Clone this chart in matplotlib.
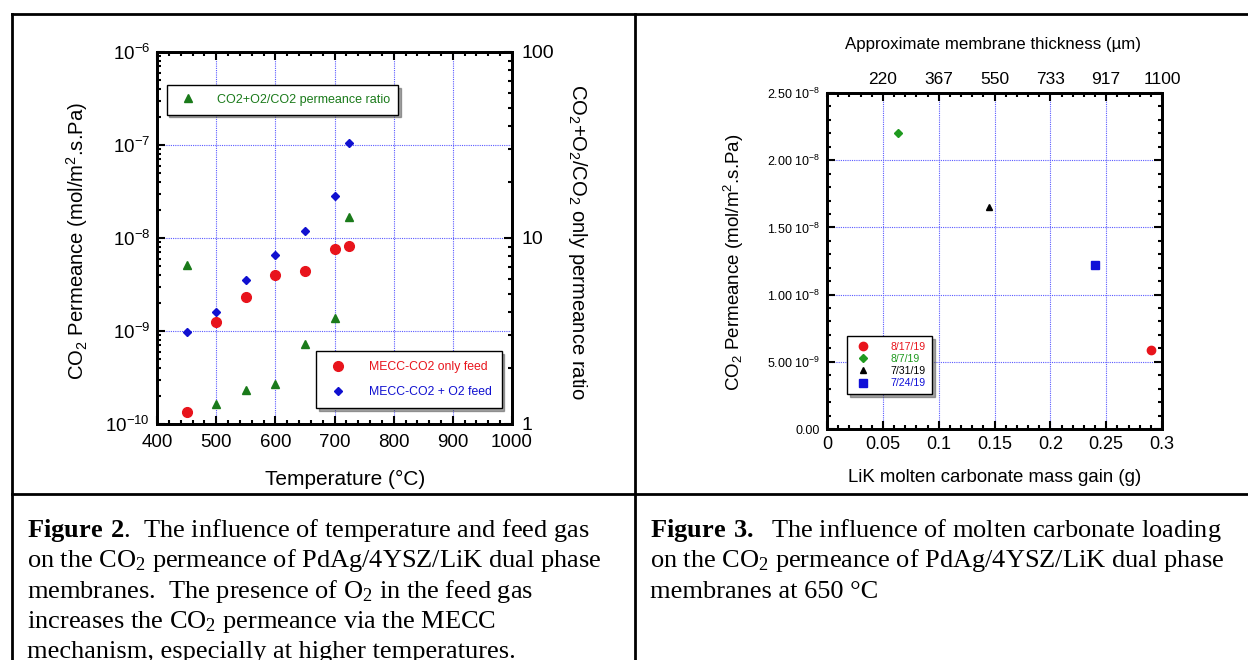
import math
import matplotlib
matplotlib.use('Agg')
import matplotlib.pyplot as plt
from matplotlib.lines import Line2D
from matplotlib.ticker import MultipleLocator, LogLocator, FixedLocator, NullFormatter, FuncFormatter

plt.rcParams['font.family'] = ['Liberation Sans', 'DejaVu Sans']
plt.rcParams['mathtext.default'] = 'regular'
plt.rcParams['mathtext.fontset'] = 'custom'
plt.rcParams['mathtext.bf'] = 'Liberation Serif:bold'

# --- Figure 2 data (temperature series) ---
temp = [450, 500, 550, 600, 650, 700, 725]
co2_only = [1.35e-10, 1.24e-9, 2.3e-9, 4.05e-9, 4.45e-9, 7.6e-9, 8.2e-9]
co2_o2 = [9.8e-10, 1.6e-9, 3.5e-9, 6.6e-9, 1.2e-8, 2.8e-8, 1.06e-7]
ratio = [7.2, 1.28, 1.52, 1.64, 2.7, 3.7, 12.9]

# --- Figure 3 data (carbonate loading) ---
runs = ['8/17/19', '8/7/19', '7/31/19', '7/24/19']
mass_gain = [0.29, 0.064, 0.145, 0.24]
permeance = [5.85e-9, 2.2e-8, 1.65e-8, 1.22e-8]
run_markers = ['o', 'D', '^', 's']
run_colors = ['#e8141c', '#1f9a1f', '#000000', '#1010d8']
thick_pos = [0.05, 0.1, 0.15, 0.2, 0.25, 0.3]
thick_lbl = ['220', '367', '550', '733', '917', '1100']

W, H = 1248, 660
RED = '#e8141c'
BLUE = '#1010d0'
GREEN = '#1a7a1a'
GRIDC = '#5a5aff'


def px(x):
    return x / W


def py(y):
    return 1 - y / H


fig = plt.figure(figsize=(W / 100, H / 100), dpi=100)

# table borders
for (x0, y0, x1, y1) in [(12, 14, 1248, 14), (12, 14, 12, 660), (635, 14, 635, 660), (12, 494, 1248, 494)]:
    fig.add_artist(Line2D([px(x0), px(x1)], [py(y0), py(y1)], transform=fig.transFigure, color='k', lw=2))

# ================= left chart =================
ax = fig.add_axes([px(157), py(424), px(512) - px(157), py(52) - py(424)])
ax.set_xlim(400, 1000)
ax.set_yscale('log')
ax.set_ylim(1e-10, 1e-6)
ax.xaxis.set_major_locator(MultipleLocator(100))
ax.xaxis.set_minor_locator(MultipleLocator(20))
ax.yaxis.set_major_locator(LogLocator(base=10, numticks=10))
ax.yaxis.set_minor_locator(LogLocator(base=10, subs=range(2, 10), numticks=20))
ax.yaxis.set_minor_formatter(NullFormatter())
ax.yaxis.set_major_formatter(FuncFormatter(lambda v, p: r'$10^{%d}$' % round(math.log10(v))))
ax.grid(True, which='major', color=GRIDC, ls=(0, (1, 1)), lw=0.8)
ax.tick_params(which='both', direction='in', top=True, right=False, labelsize=13.5, width=1.5)
ax.tick_params(which='major', length=6, pad=5)
ax.tick_params(axis='x', which='major', pad=7)
ax.tick_params(which='minor', length=3)
for s in ax.spines.values():
    s.set_linewidth(2)

l_red, = ax.plot(temp, co2_only, 'o', color=RED, ms=7, ls='none')
l_blue, = ax.plot(temp, co2_o2, 'D', color=BLUE, ms=4.5, ls='none')

ax2 = ax.twinx()
ax2.set_yscale('log')
ax2.set_ylim(1, 100)
ax2.yaxis.set_major_locator(FixedLocator([1, 10, 100]))
ax2.yaxis.set_minor_locator(LogLocator(base=10, subs=range(2, 10), numticks=20))
ax2.yaxis.set_minor_formatter(NullFormatter())
ax2.yaxis.set_major_formatter(FuncFormatter(lambda v, p: '%g' % v))
ax2.tick_params(which='both', direction='in', labelsize=14, width=1.5)
ax2.tick_params(which='major', length=6, pad=7)
ax2.tick_params(which='minor', length=3)
for s in ax2.spines.values():
    s.set_linewidth(2)
l_green, = ax2.plot(temp, ratio, '^', color=GREEN, ms=6, ls='none')

leg1 = ax2.legend([l_green], ['CO2+O2/CO2 permeance ratio'], loc='upper left',
                  bbox_to_anchor=(0.027, 0.911), borderaxespad=0, fontsize=9,
                  labelcolor=[GREEN], fancybox=False, edgecolor='k', shadow=True,
                  framealpha=1, borderpad=0.7, handletextpad=1.3)
leg1.get_frame().set_linewidth(1)
ax2.add_artist(leg1)
leg2 = ax2.legend([l_red, l_blue], ['MECC-CO2 only feed', 'MECC-CO2 + O2 feed'], loc='lower right',
                  bbox_to_anchor=(0.971, 0.043), borderaxespad=0, fontsize=8.8,
                  labelcolor=[RED, BLUE], fancybox=False, edgecolor='k', shadow=True,
                  framealpha=1, borderpad=0.8, labelspacing=1.1, handletextpad=1.5)
leg2.get_frame().set_linewidth(1)

fig.text(px(77), py(241), r'CO$_2$ Permeance (mol/m$^2$.s.Pa)', rotation=90,
         ha='center', va='center', fontsize=14.6)
fig.text(px(578), py(242), r'CO$_2$+O$_2$/CO$_2$ only permeance ratio', rotation=270,
         ha='center', va='center', fontsize=14.6)
fig.text(px(345), py(479), 'Temperature (°C)', ha='center', va='center', fontsize=15)

# ================= right chart =================
ax3 = fig.add_axes([px(827), py(429), px(1162) - px(827), py(93) - py(429)])
ax3.set_xlim(0, 0.3)
ax3.set_ylim(0, 2.5e-8)
ax3.xaxis.set_major_locator(MultipleLocator(0.05))
ax3.xaxis.set_minor_locator(MultipleLocator(0.01))
ax3.yaxis.set_major_locator(MultipleLocator(0.5e-8))
ax3.yaxis.set_minor_locator(MultipleLocator(0.1e-8))
ax3.xaxis.set_major_formatter(FuncFormatter(lambda v, p: '%g' % round(v, 3)))


def sci_fmt(v, p):
    if abs(v) < 1e-15:
        return '0.00'
    if v < 0:
        return ''
    e = math.floor(math.log10(v) + 1e-9)
    return r'%.2f 10$^{%d}$' % (v / 10 ** e, e)


ax3.yaxis.set_major_formatter(FuncFormatter(sci_fmt))
ax3.grid(True, which='major', color=GRIDC, ls=(0, (1, 1)), lw=0.8)
ax3.tick_params(which='both', direction='in', right=True, width=1.5)
ax3.tick_params(axis='x', labelsize=13)
ax3.tick_params(axis='y', labelsize=9)
ax3.tick_params(which='major', length=6, pad=5)
ax3.tick_params(which='minor', length=3)
for s in ax3.spines.values():
    s.set_linewidth(2)

handles = []
for xv, yv, mk, c in zip(mass_gain, permeance, run_markers, run_colors):
    ms = 6 if mk in ('o', 's') else (5 if mk == '^' else 4)
    h, = ax3.plot([xv], [yv], mk, color=c, ms=ms, ls='none')
    handles.append(h)

leg3 = ax3.legend(handles, runs, loc='lower left', bbox_to_anchor=(0.06, 0.104), borderaxespad=0,
                  fontsize=7.6, labelcolor=run_colors, fancybox=False, edgecolor='k', shadow=True,
                  framealpha=1, labelspacing=0.2, handletextpad=1.6, borderpad=0.55)
leg3.get_frame().set_linewidth(1)

ax4 = ax3.twiny()
ax4.set_xlim(0, 0.3)
ax4.set_xticks(thick_pos)
ax4.set_xticklabels(thick_lbl)
ax4.xaxis.set_minor_locator(MultipleLocator(0.01))
ax4.tick_params(which='both', direction='in', labelsize=12.5, width=1.5)
ax4.tick_params(which='major', length=6, pad=4)
ax4.tick_params(which='minor', length=3)
for s in ax4.spines.values():
    s.set_linewidth(2)

fig.text(px(734), py(262), r'CO$_2$ Permeance (mol/m$^2$.s.Pa)', rotation=90,
         ha='center', va='center', fontsize=13.5)
fig.text(px(995), py(478), 'LiK molten carbonate mass gain (g)', ha='center', va='center', fontsize=13.4)
fig.text(px(993), py(45), 'Approximate membrane thickness (µm)', ha='center', va='center', fontsize=12.2)

# ================= captions =================
serif = ['Liberation Serif', 'DejaVu Serif']
CAP_FS = 19

left_cap = [
    r'$\mathbf{Figure\ 2}$.  The influence of temperature and feed gas',
    'on the CO$_2$ permeance of PdAg/4YSZ/LiK dual phase',
    'membranes.  The presence of O$_2$ in the feed gas',
    'increases the CO$_2$ permeance via the MECC',
    'mechanism, especially at higher temperatures.',
]
right_cap = [
    r'$\mathbf{Figure\ 3.}$  The influence of molten carbonate loading',
    'on the CO$_2$ permeance of PdAg/4YSZ/LiK dual phase',
    'membranes at 650 °C',
]
for i, line in enumerate(left_cap):
    fig.text(px(27), py(537 + 30.3 * i), line, family=serif, fontsize=CAP_FS, ha='left', va='baseline')
for i, line in enumerate(right_cap):
    fig.text(px(650), py(537 + 30.3 * i), line, family=serif, fontsize=CAP_FS, ha='left', va='baseline')

fig.savefig('out.png', dpi=100)
